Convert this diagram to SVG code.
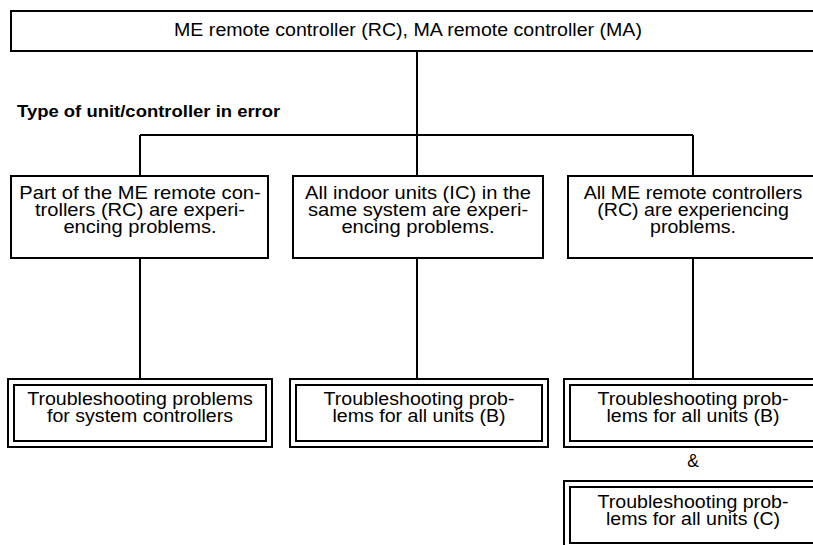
<svg xmlns="http://www.w3.org/2000/svg" width="813" height="545" viewBox="0 0 813 545">
<style>
.box{fill:#fff;stroke:#000;stroke-width:2}
.ln{fill:none;stroke:#000;stroke-width:2}
text{font-family:"Liberation Sans",Arial,sans-serif;font-size:17.5px;fill:#000;text-anchor:middle}
.hd{font-weight:bold;font-size:16.5px;text-anchor:start}
</style>
<rect x="0" y="0" width="813" height="545" fill="#fff"/>
<g id="connectors">
<path class="ln" d="M417 52V135M140 135H693M140 135V176M417 135V176M693 135V176M140 258V379M417 258V379M693 258V379"/>
</g>
<g id="top">
<rect class="box" x="11" y="11" width="812" height="40"/>
<g transform="translate(408 0) scale(1.12 1)"><text x="0" y="36">ME remote controller (RC), MA remote controller (MA)</text></g>
</g>
<g id="heading">
<g transform="translate(17 0) scale(1.12 1)"><text class="hd" x="0" y="117">Type of unit/controller in error</text></g>
</g>
<g id="c1">
<rect class="box" x="11" y="176" width="257" height="82"/>
<g transform="translate(140 0) scale(1.15 1)">
<text x="0" y="199">Part of the ME remote con-</text>
<text x="0" y="216">trollers (RC) are experi-</text>
<text x="0" y="233">encing problems.</text>
</g>
</g>
<g id="c2">
<rect class="box" x="293" y="176" width="250" height="82"/>
<g transform="translate(418 0) scale(1.15 1)">
<text x="0" y="199">All indoor units (IC) in the</text>
<text x="0" y="216">same system are experi-</text>
<text x="0" y="233">encing problems.</text>
</g>
</g>
<g id="c3">
<rect class="box" x="568" y="176" width="250" height="82"/>
<g transform="translate(693 0) scale(1.12 1)">
<text x="0" y="199">All ME remote controllers</text>
<text x="0" y="216">(RC) are experiencing</text>
<text x="0" y="233">problems.</text>
</g>
</g>
<g id="t1">
<rect class="box" x="8" y="379" width="264" height="68"/>
<rect class="box" x="14" y="385" width="252" height="56"/>
<g transform="translate(140 0) scale(1.12 1)">
<text x="0" y="405">Troubleshooting problems</text>
<text x="0" y="422">for system controllers</text>
</g>
</g>
<g id="t2">
<rect class="box" x="290" y="379" width="258" height="68"/>
<rect class="box" x="296" y="385" width="246" height="56"/>
<g transform="translate(419 0) scale(1.12 1)">
<text x="0" y="405">Troubleshooting prob-</text>
<text x="0" y="422">lems for all units (B)</text>
</g>
</g>
<g id="t3">
<rect class="box" x="564" y="379" width="258" height="68"/>
<rect class="box" x="570" y="385" width="246" height="56"/>
<g transform="translate(693 0) scale(1.12 1)">
<text x="0" y="405">Troubleshooting prob-</text>
<text x="0" y="422">lems for all units (B)</text>
</g>
</g>
<g id="amp">
<text x="693" y="467">&amp;</text>
</g>
<g id="t4">
<rect class="box" x="564" y="481" width="258" height="68"/>
<rect class="box" x="570" y="487" width="246" height="56"/>
<g transform="translate(693 0) scale(1.12 1)">
<text x="0" y="508">Troubleshooting prob-</text>
<text x="0" y="525">lems for all units (C)</text>
</g>
</g>
</svg>
